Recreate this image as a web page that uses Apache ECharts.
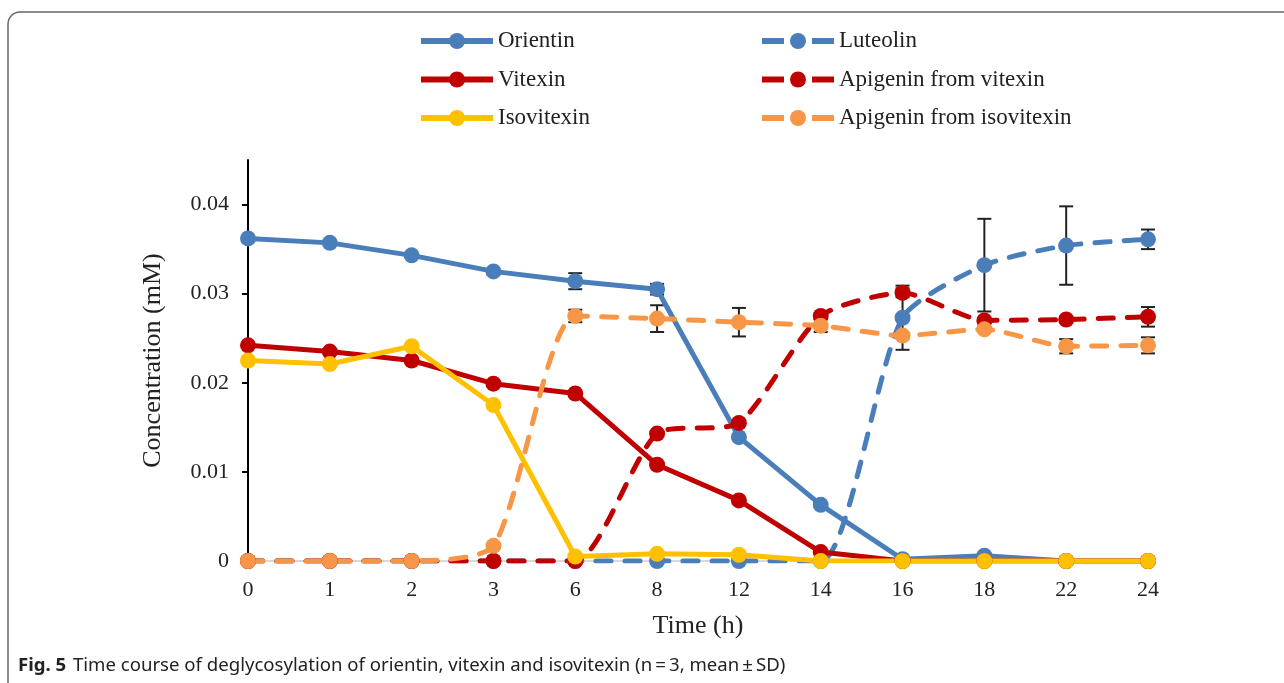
<!DOCTYPE html>
<html>
<head>
<meta charset="utf-8">
<script src="https://cdn.jsdelivr.net/npm/echarts@6/dist/echarts.min.js"></script>
<style>
html,body{margin:0;padding:0;background:#fff;}
#chart{width:1284px;height:683px;}
</style>
</head>
<body>
<div id="chart"></div>
<script>
var categories = ['0','1','2','3','6','8','12','14','16','18','22','24'];
var yTicks = [0, 0.01, 0.02, 0.03, 0.04];

var orientin   = [0.0362, 0.0357, 0.0343, 0.0325, 0.0314, 0.0305, 0.0139, 0.0063, 0.0002, 0.0006, 0.0000, 0.0000];
var luteolin   = [0, 0, 0, 0, 0, 0, 0, 0, 0.0273, 0.0332, 0.0354, 0.0361];
var vitexin    = [0.0242, 0.0235, 0.0225, 0.0199, 0.0188, 0.0108, 0.0068, 0.0010, 0, 0, 0, 0];
var apiVitexin = [0, 0, 0, 0, 0, 0.0143, 0.0155, 0.0275, 0.0301, 0.0270, 0.0271, 0.0274];
var isovitexin = [0.0225, 0.0221, 0.0241, 0.0175, 0.0005, 0.0008, 0.0007, 0, 0, 0, 0, 0];
var apiIsovitexin = [0, 0, 0, 0.0017, 0.0275, 0.0272, 0.0268, 0.0264, 0.0253, 0.0260, 0.0241, 0.0242];

var orientinSD = [0, 0, 0, 0, 0.0009, 0.0006, 0, 0, 0, 0, 0, 0];
var luteolinSD = [0, 0, 0, 0, 0, 0, 0, 0, 0.0036, 0.0052, 0.0044, 0.0011];
var apiVitexinSD = [0, 0, 0, 0, 0, 0, 0, 0.0003, 0.0005, 0.0003, 0.0003, 0.0011];
var apiIsovitexinSD = [0, 0, 0, 0, 0.0007, 0.0015, 0.0016, 0.0007, 0.0003, 0.0003, 0.0008, 0.0009];

var BLUE = '#4a7ebb', RED = '#c00000', YELLOW = '#ffc000', ORANGE = '#f79646';
var SERIF = '"Liberation Serif","Times New Roman",serif';

function errData(vals, sds) {
  var out = [];
  for (var i = 0; i < vals.length; i++) {
    if (sds[i] > 0) out.push([i, vals[i] - sds[i], vals[i] + sds[i]]);
  }
  return out;
}
var errAll = [].concat(
  errData(orientin, orientinSD),
  errData(luteolin, luteolinSD),
  errData(apiVitexin, apiVitexinSD),
  errData(apiIsovitexin, apiIsovitexinSD)
);

function lineSeries(name, data, color, dashed) {
  return {
    name: name,
    type: 'line',
    data: data,
    smooth: dashed ? 0.22 : false,
    symbol: 'circle',
    symbolSize: 16,
    itemStyle: { color: color },
    lineStyle: dashed ? { color: color, width: 5, type: [15, 14], cap: 'round' } : { color: color, width: 5 },
    z: 3
  };
}
function solidItem(name) { return { name: name, lineStyle: { width: 6, type: 'solid' } }; }
function dashItem(name) { return { name: name, lineStyle: { width: 6, type: [22, 28], dashOffset: 0, cap: 'butt' } }; }

var legendText = { fontFamily: SERIF, fontSize: 23, color: '#222', lineHeight: 24 };

var chart = echarts.init(document.getElementById('chart'));
chart.setOption({
  animation: false,
  backgroundColor: '#fff',
  grid: { left: 248, right: 136, top: 160, bottom: 122 },
  legend: [
    {
      left: 413, top: 24, orient: 'vertical',
      itemWidth: 72, itemHeight: 20, itemGap: 14.5, itemStyle: {},
      textStyle: legendText,
      data: [solidItem('Orientin'), solidItem('Vitexin'), solidItem('Isovitexin')]
    },
    {
      left: 754, top: 24, orient: 'vertical',
      itemWidth: 72, itemHeight: 20, itemGap: 14.5,
      textStyle: legendText,
      data: [dashItem('Luteolin'), dashItem('Apigenin from vitexin'), dashItem('Apigenin from isovitexin')]
    }
  ],
  xAxis: {
    type: 'category',
    data: categories,
    boundaryGap: false,
    name: 'Time (h)',
    nameLocation: 'middle',
    nameGap: 52,
    nameTextStyle: { fontFamily: SERIF, fontSize: 26, color: '#222' },
    axisLine: { lineStyle: { color: '#d9d9d9', width: 2 } },
    axisTick: { show: false },
    axisLabel: { fontFamily: SERIF, fontSize: 22, color: '#222', margin: 18 },
    splitLine: { show: false }
  },
  yAxis: {
    type: 'value',
    min: 0, max: 0.045, interval: 0.01,
    name: 'Concentration (mM)',
    nameLocation: 'middle',
    nameGap: 82,
    nameTextStyle: { fontFamily: SERIF, fontSize: 26, color: '#222' },
    axisLine: { show: true, lineStyle: { color: '#000', width: 2 } },
    axisTick: { show: true, length: 6, inside: false, customValues: yTicks, lineStyle: { color: '#000', width: 2 } },
    axisLabel: { fontFamily: SERIF, fontSize: 22, color: '#222', margin: 19, customValues: yTicks,
      formatter: function (v) { return v === 0 ? '0' : String(Math.round(v * 100) / 100); } },
    splitLine: { show: false }
  },
  series: [
    {
      type: 'custom',
      name: 'err',
      data: errAll,
      z: 2,
      silent: true,
      renderItem: function (params, api) {
        var x = api.value(0);
        var lo = api.coord([x, api.value(1)]);
        var hi = api.coord([x, api.value(2)]);
        var w = 7;
        var st = { stroke: '#222', lineWidth: 2 };
        return {
          type: 'group',
          children: [
            { type: 'line', shape: { x1: lo[0], y1: lo[1], x2: hi[0], y2: hi[1] }, style: st },
            { type: 'line', shape: { x1: lo[0] - w, y1: lo[1], x2: lo[0] + w, y2: lo[1] }, style: st },
            { type: 'line', shape: { x1: hi[0] - w, y1: hi[1], x2: hi[0] + w, y2: hi[1] }, style: st }
          ]
        };
      }
    },
    lineSeries('Orientin', orientin, BLUE, false),
    lineSeries('Luteolin', luteolin, BLUE, true),
    lineSeries('Vitexin', vitexin, RED, false),
    lineSeries('Apigenin from vitexin', apiVitexin, RED, true),
    lineSeries('Isovitexin', isovitexin, YELLOW, false),
    lineSeries('Apigenin from isovitexin', apiIsovitexin, ORANGE, true)
  ],
  graphic: [
    {
      type: 'rect',
      shape: { x: 8, y: 12, width: 1320, height: 720, r: 12 },
      style: { fill: 'none', stroke: '#666', lineWidth: 1.5 },
      silent: true
    },
    {
      type: 'text',
      left: 18, top: 656,
      style: {
        text: '{b|Fig. 5}  {r|Time course of deglycosylation of orientin, vitexin and isovitexin (n\u2009=\u20093, mean\u2009\u00b1\u2009SD)}',
        rich: {
          b: { fontFamily: '"Noto Sans",sans-serif', fontWeight: 'bold', fontSize: 18.6, fill: '#222' },
          r: { fontFamily: '"Noto Sans",sans-serif', fontSize: 18.6, fill: '#222' }
        }
      }
    }
  ]
});
</script>
</body>
</html>
